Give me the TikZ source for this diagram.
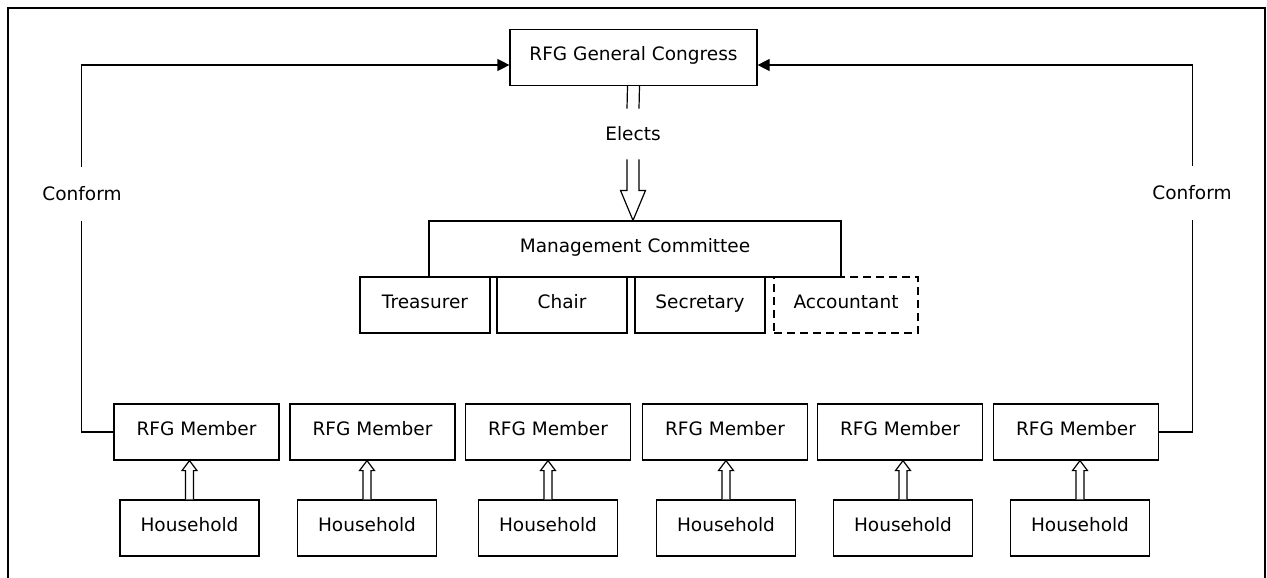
\documentclass[tikz,border=0pt]{standalone}
\usepackage{fontspec}
\setmainfont{DejaVu Sans}
\usetikzlibrary{arrows.meta,calc}

\tikzset{
  txt/.style={font=\fontsize{18.5}{22}\selectfont},
  box/.style={txt, draw, rectangle, line width=1.2pt, inner sep=0pt,
    minimum height=56pt, text height=12pt, text depth=5.5pt},
  congress/.style={box, minimum width=247pt},
  committee/.style={box, minimum width=412pt},
  role/.style={box, minimum width=130pt},
  optional/.style={box, minimum width=144pt, dash pattern=on 8pt off 5pt},
  member/.style={box, minimum width=165pt},
  house/.style={box, minimum width=139pt},
  tag/.style={txt, inner xsep=2pt},
  gaptag/.style={tag, fill=white, inner ysep=20pt},
  link/.style={line width=1.2pt},
  conform/.style={link, -{Triangle[length=12pt,width=12pt]}},
  hollow/.style={line width=1.2pt, line join=miter, fill=white},
}

% hollow block arrow pointing up: from the top of #1 to the bottom of #2
\newcommand{\blockup}[2]{%
  \draw[hollow] let \p1=(#1), \p2=(#2) in
    (\x1-4pt,\y1) -- (\x1-4pt,\y2-10pt) -- (\x1-7.5pt,\y2-10pt) -- (\x1,\y2)
    -- (\x1+7.5pt,\y2-10pt) -- (\x1+4pt,\y2-10pt) -- (\x1+4pt,\y1);}
% wide hollow block arrow pointing down, open at its tail
\newcommand{\blockdown}[2]{%
  \draw[hollow] let \p1=(#1), \p2=(#2) in
    (\x1-6pt,\y1) -- (\x1-6pt,\y2+30pt) -- (\x1-12.5pt,\y2+30pt) -- (\x1,\y2)
    -- (\x1+12.5pt,\y2+30pt) -- (\x1+6pt,\y2+30pt) -- (\x1+6pt,\y1);}

\begin{document}
\begin{tikzpicture}[x=1pt,y=-1pt]
  \useasboundingbox (0,0) rectangle (1267,578);
  % outer frame
  \draw[line width=1.5pt] (8,578) -- (8,8) -- (1265,8) -- (1265,578);

  % top level
  \node[congress] (cg) at (633.5,57.5) {RFG General Congress};
  \node[tag, inner ysep=18pt] (el) at (633,134) {Elects};
  \node[committee] (mc) at (635,249) {Management Committee};

  % committee roles
  \node[role] (tr) at (425,305) {Treasurer};
  \node[role] (ch) at (562,305) {Chair};
  \node[role] (se) at (700,305) {Secretary};
  \node[optional] (ac) at (846,305) {Accountant};

  % members and their households
  \foreach \i/\mx/\hx in {1/196.5/189.5, 2/372.5/367, 3/548/548,
                          4/725/726, 5/900/903, 6/1076/1080} {
    \node[member] (m\i) at (\mx,432) {RFG Member};
    \node[house] (h\i) at (\hx,528) {Household};
    \blockup{h\i.north}{m\i.south}
  }

  % election link
  \draw[link] ($(cg.south)+(-6,0)$) -- ($(el.north)+(-6,0)$);
  \draw[link] ($(cg.south)+(6,0)$) -- ($(el.north)+(6,0)$);
  \blockdown{el.south}{mc.north}

  % conformity links from the outer members to the congress
  \draw[conform] (m1.west) -- ++(-32,0) |- ($(cg.west)+(0,7.5)$);
  \draw[conform] (m6.east) -- ++(33,0) |- ($(cg.east)+(0,7.5)$);
  \node[gaptag] (cl) at (82,194) {Conform};
  \node[gaptag] (cr) at (1192,193) {Conform};
\end{tikzpicture}
\end{document}
